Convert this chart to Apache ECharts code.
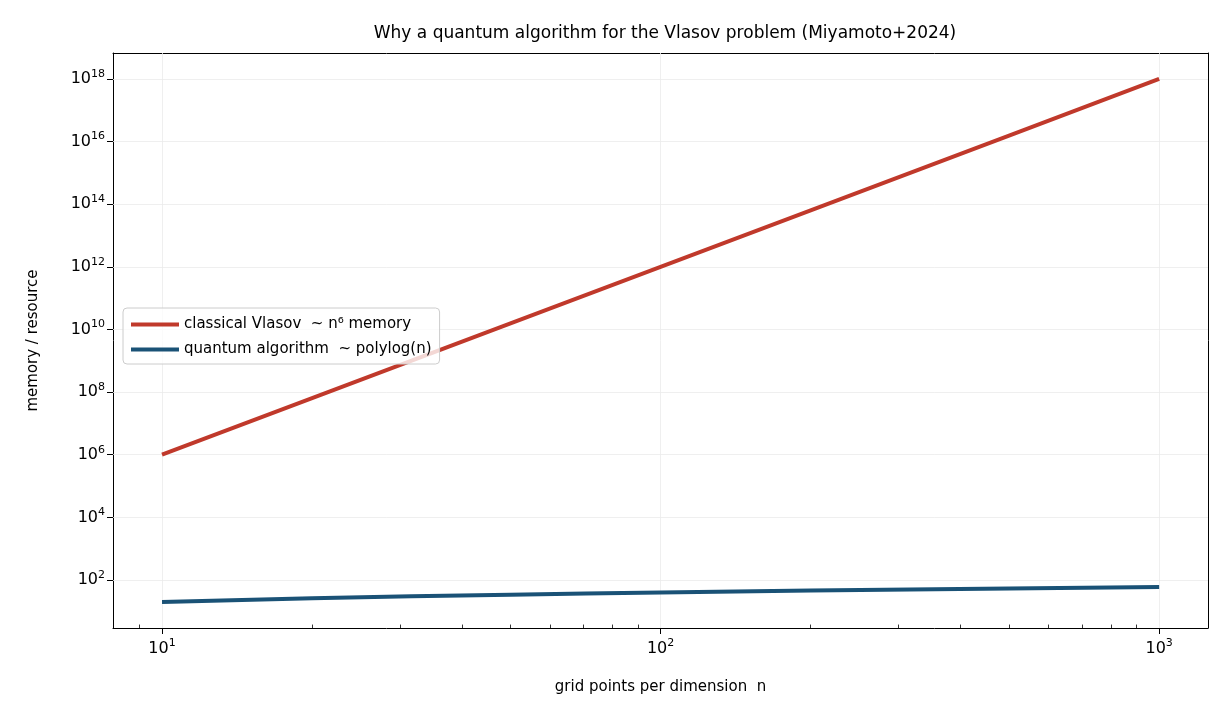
<!DOCTYPE html>
<html><head><meta charset="utf-8">
<script src="https://cdn.jsdelivr.net/npm/echarts@6/dist/echarts.min.js"></script>
<style>html,body{margin:0;padding:0;background:#fff}#c{width:1230px;height:720px}</style>
</head><body><div id="c"></div>
<script>
const nValues = [10, 20, 50, 100, 200, 500, 1000];
const classicalMemory = [1e6, 6.4e7, 1.5625e10, 1e12, 6.4e13, 1.5625e16, 1e18];
const quantumResource = [19.9, 25.9, 33.9, 39.9, 45.9, 53.8, 59.8];
const xTickExps = [1, 2, 3];
const yTickExps = [2, 4, 6, 8, 10, 12, 14, 16, 18];
const seriesNames = ['classical Vlasov  ~ n\u2076 memory', 'quantum algorithm  ~ polylog(n)'];

const L = Math.log10;
const pts = (ys) => nValues.map((n, i) => [L(n), L(ys[i])]);
const sup = (e) => '10{s|' + e + '}';
const font = 'DejaVu Sans';
const minorX = [];
for (let d = 0; d <= 3; d++) for (let m = 2; m <= 9; m++) {
  const v = L(m * Math.pow(10, d));
  if (v > 0.9017 && v < 3.098) minorX.push(v);
}
const XMIN = 0.9017, XMAX = 3.098, YMIN = 0.466, YMAX = 18.83;
const rich = { s: { fontSize: 11, verticalAlign: 'top', padding: [0, 0, 10, 0], color: '#000' } };
const chart = echarts.init(document.getElementById('c'));
chart.setOption({
  animation: false,
  textStyle: { fontFamily: font },
  title: { text: 'Why a quantum algorithm for the Vlasov problem (Miyamoto+2024)', left: 660, textAlign: 'center', top: 20,
    textStyle: { fontSize: 17, fontWeight: 'normal', color: '#000', fontFamily: font } },
  grid: { left: 113, right: 22, top: 53, bottom: 92 },
  xAxis: [{
    type: 'value', min: XMIN, max: XMAX,
    name: 'grid points per dimension  n', nameLocation: 'middle', nameGap: 52,
    nameTextStyle: { fontSize: 15, color: '#000' },
    axisLine: { show: true, onZero: false, lineStyle: { color: '#000' } },
    axisTick: { show: true, customValues: xTickExps, length: 6, lineStyle: { color: '#000' } },
    axisLabel: { customValues: xTickExps, formatter: (v) => sup(Math.round(v)), color: '#000', fontSize: 16, margin: 10, rich },
    splitLine: { show: false }
  }, {
    type: 'value', min: XMIN, max: XMAX, position: 'top',
    axisLine: { show: true, onZero: false, lineStyle: { color: '#000' } },
    axisTick: { show: false }, axisLabel: { show: false }, splitLine: { show: false }
  }],
  yAxis: [{
    type: 'value', min: YMIN, max: YMAX,
    name: 'memory / resource', nameLocation: 'middle', nameGap: 72,
    nameTextStyle: { fontSize: 15, color: '#000' },
    axisLine: { show: true, onZero: false, lineStyle: { color: '#000' } },
    axisTick: { show: true, customValues: yTickExps, length: 6, lineStyle: { color: '#000' } },
    axisLabel: { customValues: yTickExps, formatter: (v) => sup(Math.round(v)), color: '#000', fontSize: 16, margin: 8, rich },
    splitLine: { show: false }
  }, {
    type: 'value', min: YMIN, max: YMAX, position: 'right',
    axisLine: { show: true, onZero: false, lineStyle: { color: '#000' } },
    axisTick: { show: false }, axisLabel: { show: false }, splitLine: { show: false }
  }],
  legend: {
    orient: 'vertical', left: 123, top: 308, padding: [9, 8, 7, 8], itemGap: 10,
    backgroundColor: 'rgba(255,255,255,0.8)', borderColor: '#ccc', borderWidth: 1, borderRadius: 4,
    itemWidth: 48, itemHeight: 4, icon: 'rect',
    textStyle: { fontSize: 15, color: '#000', fontFamily: font },
    data: seriesNames
  },
  series: [
    { name: 'grid', type: 'line', data: [], silent: true, z: 1,
      markLine: { symbol: 'none', silent: true, label: { show: false }, z: 1,
        lineStyle: { color: '#ebebeb', type: 'solid', width: 0.8 },
        data: xTickExps.map(v => ({ xAxis: v })).concat(yTickExps.map(v => ({ yAxis: v }))) } },
    { name: 'minor', type: 'line', data: [], silent: true, z: 1,
      markLine: { symbol: 'none', silent: true, label: { show: false },
        lineStyle: { color: '#000', type: 'solid', width: 0.8 },
        data: minorX.map(v => [{ coord: [v, YMIN] }, { coord: [v, YMIN + 0.11] }]) } },
    { name: seriesNames[0], type: 'line', data: pts(classicalMemory), showSymbol: false, z: 3,
      lineStyle: { color: '#c0392b', width: 4 }, itemStyle: { color: '#c0392b' } },
    { name: seriesNames[1], type: 'line', data: pts(quantumResource), showSymbol: false, smooth: true, z: 3,
      lineStyle: { color: '#1a5276', width: 4 }, itemStyle: { color: '#1a5276' } }
  ]
});
</script></body></html>
